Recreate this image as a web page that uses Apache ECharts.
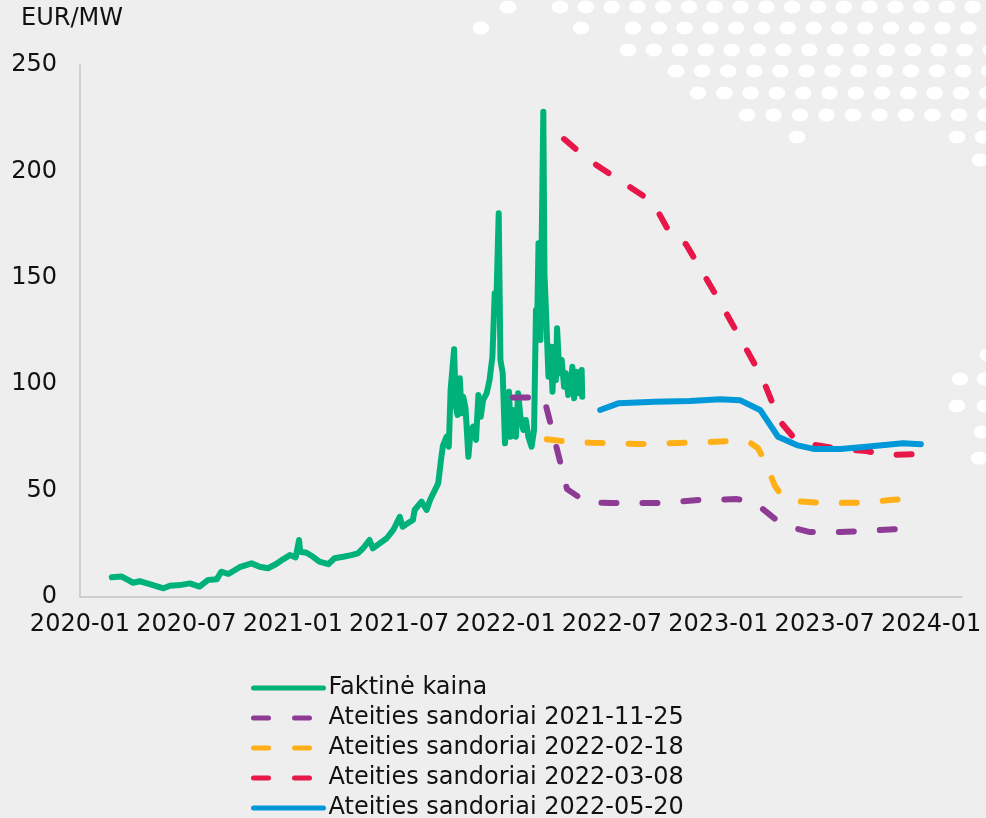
<!DOCTYPE html>
<html><head><meta charset="utf-8">
<script src="https://cdn.jsdelivr.net/npm/echarts@6/dist/echarts.min.js"></script>
<style>html,body{margin:0;padding:0;background:#eeeeee}#c{width:986px;height:818px}</style>
</head><body><div id="c"></div>
<script>
// ---- data ----
const xTickLabels = ['2020-01','2020-07','2021-01','2021-07','2022-01','2022-07','2023-01','2023-07','2024-01'];
const yTicks = [0, 50, 100, 150, 200, 250];
const seriesNames = ['Faktinė kaina','Ateities sandoriai 2021-11-25','Ateities sandoriai 2022-02-18','Ateities sandoriai 2022-03-08','Ateities sandoriai 2022-05-20'];

const actualDates = ['2020-02-24','2020-03-12','2020-04-01','2020-04-12','2020-04-29','2020-05-23','2020-06-03','2020-06-20','2020-07-07','2020-07-24','2020-08-08','2020-08-23','2020-08-31','2020-09-12','2020-10-01','2020-10-22','2020-11-05','2020-11-19','2020-12-03','2020-12-15','2020-12-27','2021-01-06','2021-01-12','2021-01-14','2021-01-25','2021-02-05','2021-02-15','2021-03-01','2021-03-12','2021-03-27','2021-04-10','2021-04-21','2021-04-30','2021-05-11','2021-05-17','2021-05-29','2021-06-10','2021-06-21','2021-07-02','2021-07-07','2021-07-16','2021-07-25','2021-07-28','2021-08-09','2021-08-18','2021-08-24','2021-09-07','2021-09-12','2021-09-15','2021-09-21','2021-09-25','2021-09-28','2021-10-04','2021-10-07','2021-10-10','2021-10-14','2021-10-17','2021-10-20','2021-10-24','2021-10-29','2021-11-02','2021-11-06','2021-11-11','2021-11-15','2021-11-19','2021-11-23','2021-11-29','2021-12-04','2021-12-09','2021-12-13','2021-12-16','2021-12-20','2021-12-23','2021-12-27','2021-12-31','2022-01-04','2022-01-07','2022-01-10','2022-01-14','2022-01-19','2022-01-23','2022-01-27','2022-02-01','2022-02-05','2022-02-09','2022-02-14','2022-02-18','2022-02-21','2022-02-23','2022-02-25','2022-02-28','2022-03-02','2022-03-05','2022-03-07','2022-03-10','2022-03-14','2022-03-18','2022-03-21','2022-03-24','2022-03-27','2022-03-29','2022-04-02','2022-04-06','2022-04-10','2022-04-13','2022-04-17','2022-04-21','2022-04-24','2022-04-27','2022-05-01','2022-05-06','2022-05-10','2022-05-11'];
const actualValues = [9.3,9.6,6.7,7.4,6.1,4.1,5.3,5.6,6.4,4.9,8,8.3,11.9,10.8,14,15.8,14.2,13.5,15.5,17.7,19.7,18.6,26.8,21.3,20.8,18.9,16.6,15.4,18.2,18.9,19.7,20.5,22.9,26.8,22.9,25.2,27.6,31.5,37.7,33,34.6,36.2,40.9,44.8,40.9,45.6,53.4,65,71,75.3,70.6,97.3,116.4,89.4,85.5,102.8,86.3,94.1,88.7,65.9,78.5,80,73.8,94.9,84.7,92.6,95.7,102,112.9,142.7,139.6,180.3,111.4,105.1,72.2,86.3,96.5,75.3,87.9,75.3,95.7,84.7,78.5,83.2,75.3,70.6,78.5,134.9,130.2,166.2,120.8,164.6,228,152.1,131.7,103.5,117.6,96.5,117.6,102,126.3,105.1,111.4,98.8,105.1,94.9,98.8,108.2,93.4,105.9,95.7,106.7,94.1];

const fwd1125Dates = ['2022-01-14','2022-03-06','2022-04-15','2022-05-19','2022-07-01','2022-09-22','2022-11-30','2023-02-02','2023-02-20','2023-03-12','2023-04-07','2023-05-02','2023-06-06','2023-07-28','2023-09-17','2023-12-07'];
const fwd1125Values = [93.8,93.8,50.7,44.4,44.2,44.2,45.6,46,45.2,42.3,36.7,32.9,30.5,30.5,31.2,32.4];

const fwd0218Dates = ['2022-03-11','2022-04-17','2022-05-25','2022-08-19','2022-11-18','2023-01-30','2023-02-23','2023-03-08','2023-03-20','2023-04-07','2023-04-20','2023-05-11','2023-07-03','2023-09-14','2023-10-22','2023-12-07'];
const fwd0218Values = [74.1,73,72.5,71.9,72.6,73.3,72.5,70,64,52,47,45,44.2,44.3,45.6,46.5];

const fwd0308Dates = ['2022-04-10','2022-05-21','2022-09-10','2022-10-13','2022-11-06','2023-01-04','2023-03-15','2023-04-15','2023-05-11','2023-06-06','2023-07-28','2023-09-12','2023-10-13','2023-12-14'];
const fwd0308Values = [215.2,205.6,185.6,169.2,165.9,138.6,103.4,82.7,74.2,71.9,69.5,68.6,66.7,67.2];

const fwd0520Dates = ['2022-06-11','2022-07-12','2022-09-14','2022-11-13','2023-01-04','2023-02-07','2023-03-12','2023-04-12','2023-05-14','2023-06-14','2023-07-28','2023-09-11','2023-11-13','2023-12-14'];
const fwd0520Values = [87.9,91,91.8,92.1,92.9,92.5,87.9,75.3,71.4,69.5,69.5,70.6,72.2,71.8];

// ---- helpers ----
function toM(s){
  const p = s.split('-').map(Number);
  const days = new Date(Date.UTC(p[0], p[1], 0)).getUTCDate();
  return (p[0]-2020)*12 + (p[1]-1) + (p[2]-1)/days;
}
function pairs(d, v){ return d.map((x,i)=>[toM(x), v[i]]); }

// decorative background dots (rows: y, startX, count, step) + loose dots
const dotRows = [[7,560,17,25.8],[28,633,14,25.8],[50,628,15,25.9],[71,676,13,26.1],[93,698,12,26.3],[115,747,10,26.5]];
const dotExtra = [[508,7],[481,28],[581,28],[797,137],[957,137],[983,137],[980,160],[988,355],[960,379],[985,379],[957,406],[985,406],[982,432],[979,458]];
const dots = [];
dotRows.forEach(r=>{ for(let i=0;i<r[2];i++) dots.push([r[1]+i*r[3], r[0]]); });
dotExtra.forEach(p=>dots.push(p));
const graphics = dots.map(p=>({type:'ellipse', silent:true, z:0, shape:{cx:p[0], cy:p[1], rx:8.2, ry:6.5}, style:{fill:'#ffffff'}}));

const FONT = 'DejaVu Sans';
const colors = ['#00b27a','#8e3b96','#ffb019','#e8174a','#0098d8'];
const dash = [15, 26];
function mk(name, data, color, type){
  return {name, type:'line', data, showSymbol:false, symbol:'none', animation:false,
    lineStyle:{width:6, color, type, cap:'round', join:'round'}, itemStyle:{color}, z:3};
}

const chart = echarts.init(document.getElementById('c'), null, {renderer:'canvas'});
chart.setOption({
  backgroundColor:'#eeeeee',
  animation:false,
  graphic: graphics,
  title:{text:'EUR/MW', left:16, top:2, textStyle:{fontFamily:FONT, fontSize:24, fontWeight:'normal', color:'#111'}},
  grid:{left:80, right:24, top:65, bottom:221, containLabel:false},
  legend:{orient:'vertical', left:246, top:671, height:220, itemWidth:70, itemHeight:14, itemGap:6,
    data: seriesNames,
    itemStyle:{opacity:0},
    lineStyle:{width:5, cap:'round'},
    textStyle:{fontFamily:FONT, fontSize:24, color:'#111'}},
  xAxis:{type:'value', min:0, max:49.74, interval:6,
    axisLine:{show:true, lineStyle:{color:'#c4c4c4', width:1.5}},
    axisTick:{show:false}, splitLine:{show:false},
    axisLabel:{margin:16, fontFamily:FONT, fontSize:24, color:'#111', showMaxLabel:false,
      formatter:function(v){ const i = Math.round(v/6); return (Math.abs(v - i*6) < 1e-6 && xTickLabels[i]) ? xTickLabels[i] : ''; }}},
  yAxis:{type:'value', min:yTicks[0], max:yTicks[yTicks.length-1], interval:50,
    axisLine:{show:true, lineStyle:{color:'#c4c4c4', width:1.5}},
    axisTick:{show:false}, splitLine:{show:false},
    axisLabel:{margin:23, fontFamily:FONT, fontSize:24, color:'#111'}},
  series:[
    mk(seriesNames[0], pairs(actualDates, actualValues), colors[0], 'solid'),
    mk(seriesNames[1], pairs(fwd1125Dates, fwd1125Values), colors[1], dash),
    mk(seriesNames[2], pairs(fwd0218Dates, fwd0218Values), colors[2], dash),
    mk(seriesNames[3], pairs(fwd0308Dates, fwd0308Values), colors[3], dash),
    mk(seriesNames[4], pairs(fwd0520Dates, fwd0520Values), colors[4], 'solid')
  ]
});
</script></body></html>
